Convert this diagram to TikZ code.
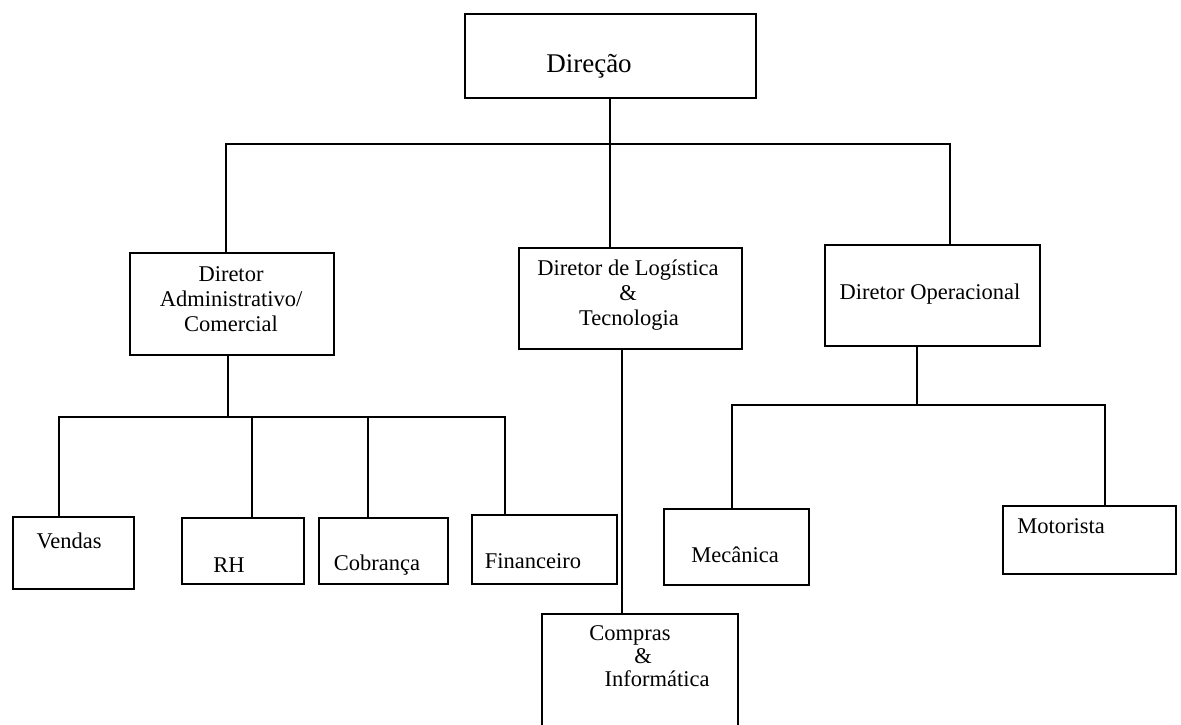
\documentclass[tikz,border=0pt]{standalone}
\usepackage{fontspec}
\setmainfont{Liberation Serif}
\begin{document}
\begin{tikzpicture}[x=1pt,y=-1pt,
  box/.style={draw,line width=2pt,rectangle,inner sep=0pt,anchor=north west},
  conn/.style={line width=2pt},
  lbl/.style={anchor=base,inner sep=0pt,font=\fontsize{22.5}{26}\selectfont},
  biglbl/.style={anchor=base,inner sep=0pt,font=\fontsize{27}{30}\selectfont}]
\useasboundingbox (0,0) rectangle (1181,724);
\fill[white] (0,0) rectangle (1181,724);
% boxes
\node[box,minimum width=291pt,minimum height=84pt] (dir) at (464,13) {};
\node[box,minimum width=204pt,minimum height=102pt] (adm) at (129,252) {};
\node[box,minimum width=223pt,minimum height=101pt] (log) at (518,247) {};
\node[box,minimum width=215pt,minimum height=101pt] (ope) at (824,244) {};
\node[box,minimum width=121pt,minimum height=72pt] (ven) at (12,516) {};
\node[box,minimum width=122pt,minimum height=66pt] (rh) at (181,517) {};
\node[box,minimum width=129pt,minimum height=66pt] (cob) at (318,517) {};
\node[box,minimum width=145pt,minimum height=69pt] (fin) at (471,514) {};
\node[box,minimum width=145pt,minimum height=76pt] (mec) at (663,508) {};
\node[box,minimum width=173pt,minimum height=68pt] (mot) at (1002,505) {};
\node[box,minimum width=196pt,minimum height=125pt] (com) at (541,613) {};
% labels
\node[biglbl] (tdir) at (589,72) {Direção};
\node[lbl] (tadm1) at (231,281) {Diretor};
\node[lbl] (tadm2) at (231,306) {Administrativo/};
\node[lbl] (tadm3) at (231,331) {Comercial};
\node[lbl] (tlog1) at (628,275) {Diretor de Logística};
\node[lbl] (tlog2) at (628,300) {\&};
\node[lbl] (tlog3) at (629,325) {Tecnologia};
\node[lbl] (tope) at (930,299) {Diretor Operacional};
\node[lbl] (tven) at (69,548) {Vendas};
\node[lbl] (trh) at (229,572) {RH};
\node[lbl] (tcob) at (377,570) {Cobrança};
\node[lbl] (tfin) at (533,568) {Financeiro};
\node[lbl] (tmec) at (735,562) {Mecânica};
\node[lbl] (tmot) at (1061,533) {Motorista};
\node[lbl] (tcom1) at (630,640) {Compras};
\node[lbl] (tcom2) at (643,663) {\&};
\node[lbl] (tcom3) at (657,686) {Informática};
% junction coordinates
\coordinate (b1w) at (226,144);
\coordinate (b1m) at (610,144);
\coordinate (b1e) at (950,144);
\coordinate (b2w) at (59,417);
\coordinate (b2m) at (228,417);
\coordinate (b2r) at (252,417);
\coordinate (b2c) at (368,417);
\coordinate (b2e) at (505,417);
\coordinate (b3w) at (732,405);
\coordinate (b3m) at (917,405);
\coordinate (b3e) at (1105,405);
\coordinate (lc) at (622,0);
% connectors
\draw[conn] (adm.north -| b1w) -- (b1w) -- (b1e) -- (ope.north -| b1e);
\draw[conn] (dir.south -| b1m) -- (log.north -| b1m);
\draw[conn] (adm.south -| b2m) -- (b2m);
\draw[conn] (ven.north -| b2w) -- (b2w) -- (b2e) -- (fin.north -| b2e);
\draw[conn] (b2r) -- (rh.north -| b2r);
\draw[conn] (b2c) -- (cob.north -| b2c);
\draw[conn] (log.south -| lc) -- (com.north -| lc);
\draw[conn] (ope.south -| b3m) -- (b3m);
\draw[conn] (mec.north -| b3w) -- (b3w) -- (b3e) -- (mot.north -| b3e);
\end{tikzpicture}
\end{document}
